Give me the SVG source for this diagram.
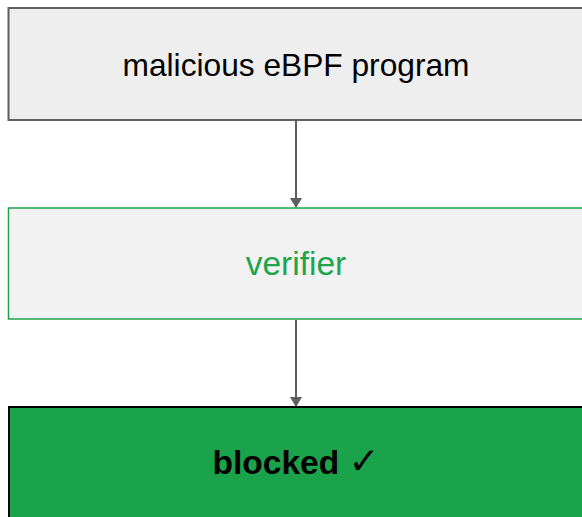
<svg xmlns="http://www.w3.org/2000/svg" width="582" height="517" viewBox="0 0 582 517">
<style>
text{font-family:"Liberation Sans",Arial,sans-serif;text-anchor:middle}
.conn{stroke:#5f5f5f;stroke-width:2;fill:none}
</style>
<defs>
<marker id="ah" markerWidth="10" markerHeight="12" refX="9" refY="6" orient="auto" markerUnits="userSpaceOnUse">
<path d="M0,0 L10,6 L0,12 Z" fill="#5f5f5f"/>
</marker>
</defs>
<rect width="582" height="517" fill="#ffffff"/>
<g id="connectors">
<line class="conn" x1="296" y1="120" x2="296" y2="207" marker-end="url(#ah)"/>
<line class="conn" x1="296" y1="320" x2="296" y2="406" marker-end="url(#ah)"/>
</g>
<g id="malicious">
<rect x="8.5" y="8" width="580" height="112" fill="#eeeeee" stroke="#5f5f5f" stroke-width="2"/>
<text x="296" y="76" font-size="31.7" fill="#000">malicious eBPF program</text>
</g>
<g id="verifier">
<rect x="8.5" y="208" width="580" height="111" fill="#f2f2f2" stroke="#1ea44c" stroke-width="1.5"/>
<text x="296" y="274.5" font-size="33.5" fill="#1ea44c">verifier</text>
</g>
<g id="blocked">
<rect x="9" y="407" width="580" height="120" fill="#1aa34a" stroke="#000" stroke-width="2"/>
<text x="296" y="473.5" font-size="33.5" font-weight="bold" fill="#000">blocked <tspan font-family="'DejaVu Sans',sans-serif" font-size="37">✓</tspan></text>
</g>
</svg>
